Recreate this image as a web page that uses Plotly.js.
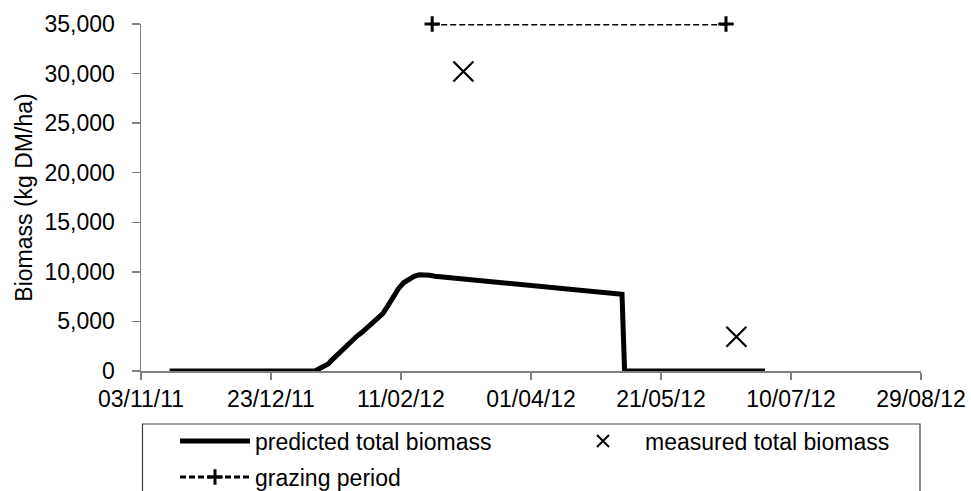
<!DOCTYPE html>
<html>
<head>
<meta charset="utf-8">
<script src="https://cdn.plot.ly/plotly-3.0.1.min.js"></script>
<style>
  html, body { margin: 0; padding: 0; background: #fff; }
  #chart { width: 971px; height: 491px; }
</style>
</head>
<body>
<div id="chart"></div>
<script>
// ---- data ----
var predictedDates = ['2011-11-14', '2012-01-09', '2012-01-10', '2012-01-12', '2012-01-14', '2012-01-15',
  '2012-01-17', '2012-01-19', '2012-01-21', '2012-01-23', '2012-01-25', '2012-01-27', '2012-01-29',
  '2012-01-31', '2012-02-02', '2012-02-04', '2012-02-06', '2012-02-08', '2012-02-10', '2012-02-12',
  '2012-02-14', '2012-02-16', '2012-02-18', '2012-02-20', '2012-02-22', '2012-02-24',
  '2012-05-06', '2012-05-07', '2012-06-30'];
var predictedBiomass = [0, 0, 150, 400, 700, 1000,
  1500, 2100, 2600, 3100, 3500, 3900, 4400,
  4900, 5300, 5800, 6600, 7500, 8300, 8900,
  9300, 9550, 9700, 9720, 9650, 9550,
  7750, 0, 0];

var measuredDates = ['2012-03-06', '2012-06-19'];
var measuredBiomass = [30200, 3450];

var grazingDates = ['2012-02-23', '2012-06-15'];
var grazingLevel = [35000, 35000];

var xTickVals = ['2011-11-03', '2011-12-23', '2012-02-11', '2012-04-01', '2012-05-21', '2012-07-10', '2012-08-29'];
var yTickVals = [0, 5000, 10000, 15000, 20000, 25000, 30000, 35000];

var FONT = 'Liberation Sans, Arial, sans-serif';
var FS = 23;
var AXC = '#808080';

var traces = [
  {
    x: predictedDates, y: predictedBiomass, type: 'scatter', mode: 'lines',
    name: 'predicted total biomass', legend: 'legend',
    line: { color: '#000', width: 5 }, cliponaxis: false
  },
  {
    x: measuredDates, y: measuredBiomass, type: 'scatter', mode: 'markers',
    name: 'measured total biomass', legend: 'legend2',
    marker: { symbol: 'x-thin', size: 20, color: '#000', line: { color: '#000', width: 2.2 } },
    cliponaxis: false
  },
  {
    x: grazingDates, y: grazingLevel, type: 'scatter', mode: 'lines+markers',
    name: 'grazing period', legend: 'legend3',
    line: { color: '#000', width: 3, dash: '6px,3px' },
    marker: { symbol: 'cross-thin', size: 11, color: '#000', line: { color: '#000', width: 3 } },
    cliponaxis: false
  }
];

var PW = 780, PH = 347, L = 141, T = 24, W = 971, H = 491;
function px2paperX(px) { return (px - L) / PW; }
function px2paperY(py) { return (T + PH - py) / PH; }

var legFont = { family: FONT, size: FS, color: '#000' };

var layout = {
  width: W, height: H,
  margin: { l: L, r: W - L - PW, t: T, b: H - T - PH, autoexpand: false },
  paper_bgcolor: '#fff', plot_bgcolor: '#fff',
  font: { family: FONT, size: FS, color: '#000' },
  showlegend: true,
  xaxis: {
    type: 'date', range: ['2011-11-03', '2012-08-29'],
    tickmode: 'array', tickvals: xTickVals, tickformat: '%d/%m/%y',
    showgrid: false, zeroline: false,
    showline: true, linecolor: AXC, linewidth: 1.5,
    ticks: 'outside', ticklen: 7, tickwidth: 1.5, tickcolor: AXC,
    tickfont: { family: FONT, size: FS, color: '#000' },
    ticklabelstandoff: 0
  },
  yaxis: {
    range: [0, 35000], tickmode: 'array', tickvals: yTickVals, tickformat: ',d',
    showgrid: false, zeroline: false,
    showline: true, linecolor: AXC, linewidth: 1.5,
    ticks: 'outside', ticklen: 8, tickwidth: 1.5, tickcolor: AXC,
    tickfont: { family: FONT, size: FS, color: '#000' },
    ticklabelstandoff: 12,
    title: { text: 'Biomass (kg DM/ha)', font: { family: FONT, size: FS, color: '#000' }, standoff: 5 }
  },
  legend: {
    x: px2paperX(175), y: px2paperY(441), xanchor: 'left', yanchor: 'middle',
    itemwidth: 70, font: legFont, bgcolor: 'rgba(0,0,0,0)', borderwidth: 0
  },
  legend2: {
    x: px2paperX(561), y: px2paperY(441), xanchor: 'left', yanchor: 'middle',
    itemwidth: 74, font: legFont, bgcolor: 'rgba(0,0,0,0)', borderwidth: 0, itemsizing: 'constant'
  },
  legend3: {
    x: px2paperX(175), y: px2paperY(477), xanchor: 'left', yanchor: 'middle',
    itemwidth: 70, font: legFont, bgcolor: 'rgba(0,0,0,0)', borderwidth: 0
  },
  shapes: [
    {
      type: 'rect', xref: 'paper', yref: 'paper',
      x0: px2paperX(142.5), x1: px2paperX(920), y0: px2paperY(424), y1: px2paperY(500),
      line: { color: '#404040', width: 1.2 }, fillcolor: 'rgba(0,0,0,0)', layer: 'below'
    }
  ]
};

Plotly.newPlot('chart', traces, layout, { staticPlot: true, displayModeBar: false });
</script>
</body>
</html>
